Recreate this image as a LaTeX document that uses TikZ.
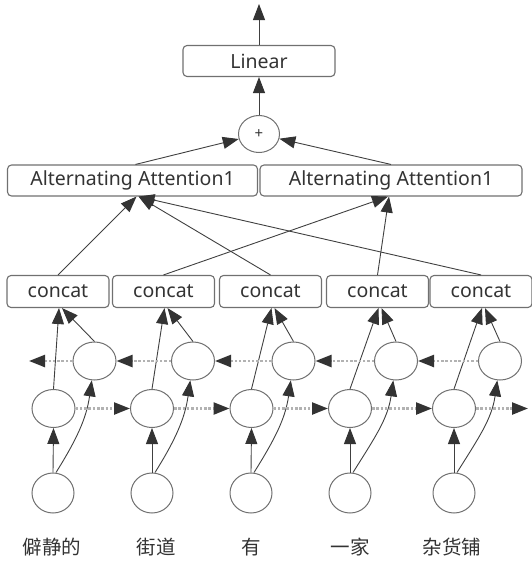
\documentclass[tikz,border=0pt]{standalone}
\usepackage{fontspec}
\setmainfont{Noto Sans CJK SC}
\newfontfamily\latinfont{Noto Sans}
\usetikzlibrary{arrows.meta,shapes.geometric,calc}
\definecolor{ink}{HTML}{333333}
\definecolor{edge}{HTML}{404040}
\definecolor{frame}{HTML}{707070}
\begin{document}
\begin{tikzpicture}[x=1pt,y=-1pt,
  box/.style={draw=frame,line width=1.1pt,rounded corners=4pt,inner sep=0pt,
    minimum height=31pt,text=ink,font=\latinfont\fontsize{19.5}{19.5}\selectfont},
  cell/.style={draw=frame,line width=1pt,ellipse,inner sep=0pt,
    minimum width=43pt,minimum height=38pt},
  word/.style={text=ink,font=\fontsize{19.5}{19.5}\selectfont},
  tip/.style={-{Triangle[length=16pt,width=12pt,color=ink]}},
  link/.style={tip,draw=edge,line width=0.9pt},
  flow/.style={tip,draw=gray!60,line width=2.4pt,dash pattern=on 2.5pt off 1.8pt}]
\useasboundingbox (0,0) rectangle (531,562);

% output head
\node[box,minimum width=152pt] (lin) at (259,61) {Linear};
\node[draw=frame,line width=1pt,ellipse,minimum width=41pt,minimum height=37pt,
  inner sep=0pt,font=\latinfont\fontsize{15}{15}\selectfont,text=ink] (plus) at (259,134) {+};
\coordinate (out) at (259,4);

% attention blocks
\node[box,minimum width=250pt] (aa1) at (132.5,180.5) {Alternating Attention1};
\node[box,minimum width=262pt] (aa2) at (391,180.5) {Alternating Attention1};

% concat blocks
\foreach \i/\x in {1/58,2/163.5,3/270.5,4/377.5,5/481}
  \node[box,minimum width=102pt,minimum height=32pt] (c\i) at (\x,291.5) {concat};

% backward, forward and input cells
\foreach \i/\x in {1/94.5,2/193,3/293.5,4/396,5/500}
  \node[cell] (b\i) at (\x,361) {};
\foreach \i/\x in {1/53.5,2/152,3/251.5,4/350,5/454}
  \node[cell] (f\i) at (\x,408.5) {};
\foreach \i/\x in {1/53,2/152,3/251,4/350,5/454}
  \node[cell,minimum width=42pt,minimum height=40pt] (x\i) at (\x,493) {};

% words
\node[word] (w1) at (52,547) {僻静的};
\node[word] (w2) at (156,547) {街道};
\node[word] (w3) at (251,547) {有};
\node[word] (w4) at (350,547) {一家};
\node[word] (w5) at (452,547) {杂货铺};

\coordinate (fend) at (528,408.5);
\coordinate (bend) at (29,361);

% head connectors
\draw[link] (lin.north) -- (out);
\draw[link] (plus.north) -- (lin.south);
\draw[link] ($(aa1.north)+(3,0)$) -- (plus);
\draw[link] (aa2.north) -- (plus);

% concat to attention
\draw[link] (c1.north) -- ($(aa1.south)+(4,0)$);
\draw[link] (c3.north) -- ($(aa1.south)+(6,0)$);
\draw[link] (c5.north) -- ($(aa1.south)+(6,0)$);
\draw[link] (c2.north) -- ($(aa2.south)+(-3,0)$);
\draw[link] (c4.north) -- ($(aa2.south)+(-2,0)$);

% cells to concat, inputs to cells
\foreach \i in {1,...,5}{
  \draw[link] (f\i.north) -- ($(c\i.south)+(1,0)$);
  \draw[link] (b\i.north) -- ($(c\i.south)+(4,0)$);
  \draw[link] (x\i.north) -- (f\i.south);
  \draw[link] ($(x\i.north)+(3,0)$) to[out=58,in=-98] (b\i.262);
}

% recurrent connections
\foreach \i/\j in {1/2,2/3,3/4,4/5}{
  \draw[flow] (f\i.east) -- (f\j.west);
  \draw[flow] (b\j.west) -- (b\i.east);
}
\draw[flow] (f5.east) -- (fend);
\draw[flow] (b1.west) -- (bend);
\end{tikzpicture}
\end{document}
